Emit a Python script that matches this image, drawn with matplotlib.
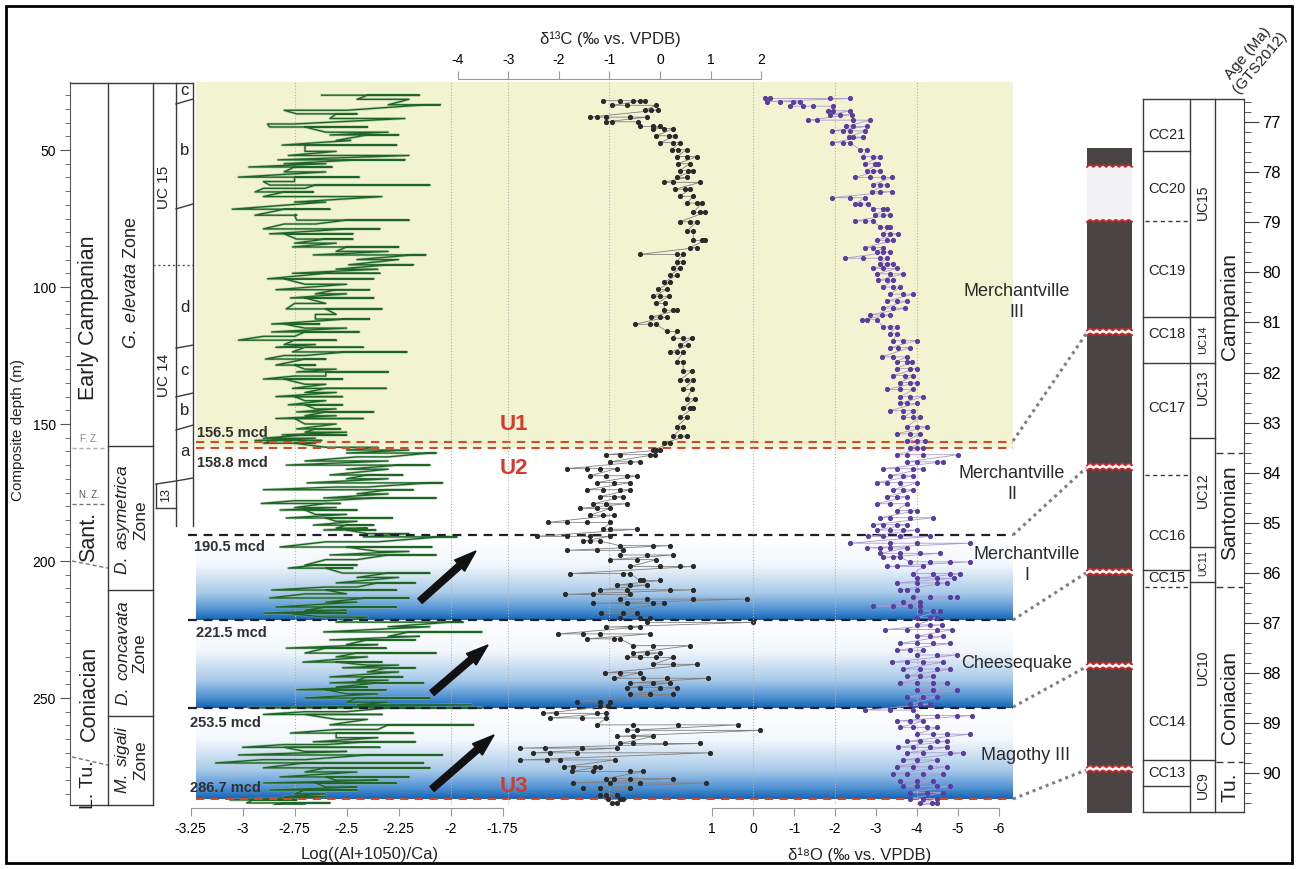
import numpy as np
import matplotlib
matplotlib.use('Agg')
import matplotlib.pyplot as plt
from matplotlib.patches import Rectangle, FancyArrow, Polygon
from matplotlib.colors import LinearSegmentedColormap
from matplotlib.ticker import FixedLocator

plt.rcParams['font.family'] = ['Liberation Sans', 'DejaVu Sans']
plt.rcParams['axes.unicode_minus'] = False
plt.rcParams['mathtext.fontset'] = 'custom'
plt.rcParams['mathtext.rm'] = 'Liberation Sans'
plt.rcParams['mathtext.it'] = 'Liberation Sans:italic'

# ---------------------------------------------------------------- data
# Log((Al+1050)/Ca) : (depth m, values read along that depth)
GREEN_ROWS = [
    (30.0, [-2.62, -2.15, -2.55, -2.40]), (31.5, [-2.45, -2.20]),
    (33.5, [-2.30, -2.05, -2.22, -2.12]), (35.5, [-2.50, -2.80]),
    (36.8, [-2.74, -2.45, -2.70, -2.55]), (38.5, [-2.58, -2.22]),
    (40.5, [-2.75, -2.88]), (41.6, [-2.87, -2.40, -2.80, -2.70]),
    (43.5, [-2.60, -2.30]), (44.5, [-2.58, -2.25, -2.45, -2.40]),
    (46.5, [-2.55, -2.48]), (48.2, [-2.81, -2.26, -2.78, -2.70]),
    (50.5, [-2.70, -2.55]), (52.0, [-2.78, -2.20]),
    (53.6, [-2.83, -2.22, -2.70, -2.45]), (55.0, [-2.80, -2.60]),
    (56.2, [-2.97, -2.57, -2.90, -2.75]), (58.0, [-2.80, -2.60]),
    (59.9, [-3.02, -2.44, -2.88, -2.75]), (61.5, [-2.75, -2.90]),
    (62.8, [-2.87, -2.10, -2.75, -2.65]), (64.0, [-2.70, -2.90]),
    (65.3, [-2.94, -2.66, -2.85, -2.80]), (67.0, [-2.90, -2.33]),
    (69.0, [-2.75, -2.60]), (71.6, [-3.05, -2.58, -3.00, -2.80]),
    (73.8, [-2.94, -2.74, -2.90, -2.75]), (75.6, [-2.74, -2.20, -2.50]),
    (77.0, [-2.65, -2.80]), (78.8, [-2.90, -2.34, -2.85, -2.50]),
    (80.6, [-2.87, -2.47, -2.80]), (82.5, [-2.74, -2.47, -2.60]),
    (84.0, [-2.75, -2.55]), (85.4, [-2.76, -2.25, -2.70, -2.50]),
    (87.0, [-2.55, -2.30]), (88.3, [-2.66, -2.12, -2.40, -2.18]),
    (90.0, [-2.45, -2.25]), (91.9, [-2.49, -2.18, -2.30]),
    (93.5, [-2.55, -2.35]), (95.0, [-2.76, -2.34, -2.60]),
    (97.0, [-2.88, -2.37, -2.80]), (99.0, [-2.70, -2.50]),
    (101.0, [-2.84, -2.39, -2.78, -2.55]), (102.5, [-2.65, -2.50]),
    (104.0, [-2.77, -2.37, -2.70]), (106.0, [-2.60, -2.75]),
    (108.0, [-2.79, -2.33, -2.70, -2.60]), (110.0, [-2.55, -2.65]),
    (111.7, [-2.65, -2.39, -2.50]), (113.5, [-2.86, -2.63, -2.80]),
    (115.0, [-2.70, -2.50]), (116.4, [-2.86, -2.44, -2.70]),
    (118.0, [-2.75, -2.90]), (119.4, [-3.02, -2.55, -2.95, -2.75]),
    (121.0, [-2.80, -2.65]), (122.0, [-2.84, -2.42, -2.70]),
    (123.7, [-2.76, -2.21, -2.50]), (125.0, [-2.70, -2.80]),
    (126.3, [-2.89, -2.60, -2.77, -2.70]), (128.5, [-2.84, -2.65, -2.75]),
    (130.0, [-2.70, -2.55]), (131.0, [-2.74, -2.30, -2.60]),
    (132.5, [-2.60, -2.75]), (133.6, [-2.90, -2.52, -2.80]),
    (135.5, [-2.70, -2.60]), (137.0, [-2.76, -2.31, -2.60]),
    (138.5, [-2.70, -2.55]), (140.0, [-2.84, -2.52, -2.75]),
    (141.5, [-2.70, -2.60]), (143.0, [-2.78, -2.52, -2.70]),
    (144.5, [-2.65, -2.55]), (145.6, [-2.74, -2.37, -2.60]),
    (147.0, [-2.70, -2.55]), (148.0, [-2.84, -2.42, -2.75]),
    (150.0, [-2.70, -2.55]), (151.8, [-2.74, -2.53, -2.65]),
    (153.0, [-2.70, -2.50]), (154.0, [-2.81, -2.50, -2.70]),
    (155.2, [-2.90, -2.65]), (156.0, [-2.94, -2.62, -2.85]),
    (157.0, [-2.90, -2.65, -2.75]), (158.5, [-2.60, -2.35]),
    (159.5, [-2.50, -2.20]), (160.6, [-2.50, -2.07, -2.35, -2.10]),
    (162.0, [-2.30, -2.45]), (163.5, [-2.70, -2.30]),
    (165.0, [-2.79, -2.10, -2.60, -2.25]), (166.5, [-2.50, -2.30]),
    (168.6, [-2.58, -2.23, -2.40]), (170.0, [-2.50, -2.30]),
    (171.5, [-2.69, -2.04, -2.45, -2.10]), (173.0, [-2.40, -2.55]),
    (174.0, [-2.90, -2.18, -2.60, -2.30]), (175.5, [-2.45, -2.30]),
    (177.0, [-2.61, -2.07, -2.35]), (178.0, [-2.60, -2.75]),
    (179.0, [-2.91, -2.53, -2.80, -2.60]), (180.5, [-2.75, -2.55]),
    (181.4, [-2.82, -2.45, -2.70]), (183.0, [-2.65, -2.50]),
    (184.3, [-2.79, -2.28, -2.60]), (185.5, [-2.55, -2.45]),
    (186.9, [-2.66, -2.37, -2.50]), (188.0, [-2.55, -2.40]),
    (188.7, [-2.61, -2.36, -2.50]), (190.0, [-2.40, -2.20]),
    (191.2, [-2.42, -1.97, -2.20, -2.05]), (193.0, [-2.35, -2.60]),
    (194.9, [-2.82, -2.09, -2.50]), (196.5, [-2.35, -2.20]),
    (197.8, [-2.58, -2.07, -2.30]), (199.5, [-2.45, -2.60]),
    (201.5, [-2.70, -2.45, -2.65]), (202.6, [-2.78, -2.47, -2.60]),
    (204.4, [-2.52, -2.10, -2.30]), (206.0, [-2.45, -2.25]),
    (208.0, [-2.55, -2.17, -2.35]), (209.5, [-2.45, -2.60]),
    (210.6, [-2.86, -2.26, -2.60]), (212.0, [-2.50, -2.70]),
    (213.5, [-2.87, -2.20, -2.80, -2.40]), (215.0, [-2.60, -2.45]),
    (216.8, [-2.84, -2.26, -2.60]), (218.0, [-2.70, -2.50]),
    (219.0, [-2.90, -2.50, -2.80]), (220.5, [-2.60, -2.40]),
    (222.3, [-2.55, -1.94, -2.30, -2.00]), (224.0, [-2.30, -2.10]),
    (225.9, [-2.61, -1.85, -2.40, -2.20]), (227.5, [-2.30, -2.15]),
    (228.8, [-2.58, -2.17, -2.40]), (230.5, [-2.50, -2.35]),
    (231.8, [-2.79, -2.31, -2.60]), (233.6, [-2.70, -2.07, -2.45]),
    (235.0, [-2.55, -2.40]), (236.9, [-2.71, -2.33, -2.55]),
    (238.0, [-2.40, -2.25]), (239.0, [-2.52, -2.17, -2.30]),
    (240.5, [-2.40, -2.25]), (242.3, [-2.58, -2.23, -2.40]),
    (243.5, [-2.45, -2.30]), (244.5, [-2.58, -2.13, -2.35]),
    (246.0, [-2.55, -2.40]), (247.0, [-2.74, -2.31, -2.60]),
    (248.5, [-2.50, -2.35]), (250.0, [-2.70, -2.10, -2.45]),
    (251.5, [-2.50, -2.30]), (252.5, [-2.45, -1.90]),
    (253.6, [-2.97, -1.85, -2.60, -2.30]), (255.0, [-2.50, -2.70]),
    (256.0, [-2.90, -2.33, -2.70]), (257.8, [-2.55, -2.40]),
    (259.8, [-2.58, -1.89, -2.30]), (261.5, [-2.35, -2.55]),
    (262.8, [-2.77, -2.18, -2.55]), (264.5, [-2.55, -2.35]),
    (266.0, [-2.66, -2.17, -2.40]), (267.0, [-2.60, -2.80]),
    (268.0, [-3.00, -2.34, -2.80]), (269.5, [-2.70, -2.50]),
    (270.8, [-3.02, -2.04, -2.80, -2.40]), (272.5, [-2.70, -2.90]),
    (273.7, [-3.13, -2.13, -2.95, -2.70]), (275.5, [-2.90, -2.10, -2.60]),
    (277.0, [-2.70, -2.45]), (278.8, [-2.82, -2.20, -2.60]),
    (280.0, [-2.55, -2.35]), (281.0, [-2.90, -2.26, -2.65]),
    (282.5, [-2.60, -2.45]), (283.6, [-2.87, -2.45, -2.70]),
    (285.0, [-2.75, -2.60]), (286.0, [-2.80, -2.60]),
    (287.2, [-3.06, -2.74, -2.95]), (288.3, [-2.98, -2.58, -2.80]),
    (289.0, [-2.85, -2.70]),
]

# delta13C (permil VPDB)
C13_ROWS = [
    (32.0, [-1.12, -0.79, -0.53, -0.40, -0.30]), (33.7, [-0.96, -0.66, -0.07]),
    (35.4, [-0.30, -0.17, -0.03]), (38.0, [-1.39, -1.25, -1.06, -0.59, -0.26]),
    (39.7, [-1.06, -0.96, -0.43]), (41.4, [-0.40, -0.13, 0.00]),
    (42.2, [-0.13, 0.07, 0.26]), (44.8, [-0.07, 0.17, 0.30]),
    (47.3, [0.00, 0.26, 0.39]), (49.9, [0.23, 0.36, 0.53]),
    (52.4, [0.33, 0.53, 0.73]), (55.0, [0.36, 0.59]),
    (57.5, [0.39, 0.56, 0.66]), (60.0, [0.33, 0.53]),
    (61.8, [0.07, 0.26, 0.79]), (64.3, [0.30, 0.50, 0.59]),
    (66.9, [0.39, 0.66]), (69.4, [0.53, 0.73, 0.83]),
    (72.8, [0.66, 0.79, 0.89]), (76.2, [0.39, 0.59, 0.73]),
    (79.6, [0.53, 0.66]), (83.0, [0.66, 0.83, 0.89]),
    (85.6, [0.59, 0.73]), (88.1, [-0.40, 0.33, 0.46]),
    (90.7, [0.33, 0.46]), (93.2, [0.26, 0.39]),
    (95.8, [0.20, 0.33]), (98.3, [0.07, 0.20]),
    (100.9, [-0.03, 0.13]), (103.4, [-0.13, 0.00, 0.17]),
    (106.0, [-0.07, 0.10]), (108.5, [0.07, 0.26, 0.33]),
    (111.0, [-0.17, 0.00, 0.13]), (113.6, [-0.50, -0.20, -0.07]),
    (116.2, [0.13, 0.33]), (118.7, [0.26, 0.46, 0.63]),
    (121.3, [0.39, 0.56]), (123.8, [0.20, 0.33, 0.46]),
    (127.2, [0.33, 0.46]), (130.6, [0.46, 0.63]),
    (134.0, [0.39, 0.53, 0.66]), (137.4, [0.46, 0.63]),
    (140.8, [0.53, 0.69]), (144.2, [0.46, 0.59, 0.66]),
    (147.6, [0.39, 0.53]), (151.0, [0.33, 0.46]),
    (154.4, [0.26, 0.39, 0.53]), (157.0, [0.07, 0.20]),
    (159.5, [-0.13, -0.07, 0.00]), (161.2, [-1.06, -0.79, -0.20, -0.10]),
    (163.8, [-0.99, -0.59, -0.40]), (166.3, [-1.85, -1.45, -1.19, -0.86]),
    (168.9, [-1.39, -1.06, -0.66, -0.46]), (171.4, [-1.25, -0.92, -0.59]),
    (174.0, [-1.45, -1.12, -0.79, -0.59]), (176.5, [-1.19, -0.92, -0.73]),
    (179.1, [-1.32, -1.06, -0.66]), (180.8, [-1.58, -1.25, -0.99]),
    (183.3, [-1.39, -1.12, -0.92]), (185.9, [-2.21, -1.85, -1.45, -0.99]),
    (188.4, [-1.12, -0.99, -0.46]), (191.0, [-2.44, -1.85, -1.39, -0.99]),
    (192.7, [-1.52, -1.39, -1.19]), (194.4, [-0.79, -0.13, 0.20]),
    (196.1, [-1.85, -1.25, -0.73]), (197.8, [-0.79, -0.26, 0.26]),
    (199.5, [-0.99, -0.46, -0.07]), (202.0, [-0.59, 0.00, 0.39, 0.66]),
    (204.6, [-1.78, -0.73, -0.59]), (207.1, [-0.40, -0.33, 0.00]),
    (208.8, [-0.86, -0.59, -0.26]), (210.5, [-1.19, -0.66, 0.20, 0.66]),
    (212.2, [-1.88, -1.32, -0.59]), (213.9, [-0.79, -0.26, 0.66, 1.72]),
    (215.5, [-1.32, -0.66, -0.13, 0.07]), (219.0, [-1.16, -0.73, -0.46]),
    (220.7, [-0.79, -0.40, -0.20]), (222.4, [-0.26, 1.85]),
    (224.1, [-1.06, -0.59, -0.40]), (226.6, [-2.01, -1.52, -1.19, -0.20]),
    (228.4, [-1.45, -0.92, -0.79]), (230.9, [-0.53, -0.13, 0.59]),
    (233.5, [-0.53, -0.26, 0.00]), (235.2, [-0.66, -0.40, -0.07, 0.26]),
    (237.7, [-0.13, 0.26, 0.73]), (240.8, [-1.09, -0.79, -0.40]),
    (242.8, [-0.92, -0.33, 0.13, 0.96]), (244.5, [-0.59, -0.13, 0.20]),
    (246.2, [-0.66, -0.40, 0.00, 0.33]), (248.7, [-0.59, -0.20, 0.26]),
    (251.3, [-1.65, -1.19, -0.99]), (253.0, [-1.19, -1.02]),
    (255.6, [-2.31, -2.05, -1.25, -1.06]), (257.3, [-2.18, -1.55, -1.06]),
    (259.8, [-1.25, -0.53, 0.36, 1.55]), (261.8, [-0.66, -0.46, 1.98]),
    (264.0, [-0.86, -0.53, -0.13]), (266.6, [-0.79, -0.53, 0.10, 0.79]),
    (268.3, [-2.77, -2.28, -1.55, -0.86]), (270.0, [-2.51, -2.18, -1.65, 0.99]),
    (272.6, [-2.77, -2.24, -1.98, -0.89]), (275.1, [-1.91, -1.72, -1.29, -1.19]),
    (276.8, [-1.75, -1.32, -0.59, -0.33]), (279.4, [-1.06, -0.92, -0.59, 0.26]),
    (281.0, [-1.72, -0.99, -0.40, 0.92]), (282.8, [-1.52, -1.19, -0.59]),
    (285.3, [-1.19, -1.06, -0.86]), (287.0, [-1.02, -0.79, -0.73]),
    (288.4, [-0.96, -0.86]),
]

# delta18O (permil VPDB)
O18_ROWS = [
    (31.2, [-0.29, -0.41, -1.88, -2.37]), (32.3, [-0.33, -0.66, -0.98, -1.15]),
    (34.0, [-0.90, -1.23, -1.47, -1.96]), (35.7, [-1.84, -1.96, -2.37]),
    (37.1, [-1.88, -2.12, -2.41]), (39.1, [-1.35, -1.55, -2.45, -2.85]),
    (41.4, [-2.28, -2.45, -2.77]), (43.0, [-1.92, -2.20, -2.37, -2.73]),
    (45.3, [-2.33, -2.45, -2.69]), (47.3, [-1.92, -2.20, -2.37]),
    (49.9, [-2.61, -2.77]), (52.4, [-2.69, -2.93, -3.10]),
    (55.0, [-2.73, -2.98, -3.06]), (57.5, [-2.77, -2.93, -3.10]),
    (60.0, [-2.49, -2.85, -3.18, -3.38]), (62.6, [-2.93, -3.10, -3.26]),
    (65.2, [-2.89, -3.10, -3.38]), (67.4, [-1.92, -2.37, -2.73]),
    (69.7, [-2.49, -2.61, -2.81]), (71.4, [-2.93, -3.18, -3.26]),
    (73.7, [-2.98, -3.18, -3.34]), (75.9, [-2.49, -2.73, -2.93]),
    (78.2, [-3.10, -3.26, -3.34]), (80.5, [-3.18, -3.34, -3.54]),
    (83.0, [-3.02, -3.26, -3.42]), (85.6, [-2.73, -2.93, -3.18]),
    (87.2, [-3.02, -3.18, -3.34]), (89.5, [-2.24, -2.69, -3.10, -3.26]),
    (91.5, [-3.10, -3.26, -3.42]), (93.2, [-2.93, -3.18, -3.50]),
    (95.2, [-3.02, -3.34, -3.67]), (97.5, [-3.06, -3.26, -3.42]),
    (100.0, [-3.18, -3.42, -3.59]), (102.6, [-3.34, -3.67, -3.91]),
    (105.1, [-3.26, -3.50, -3.75]), (107.7, [-3.18, -3.42, -3.71]),
    (110.2, [-2.85, -3.14, -3.34]), (111.9, [-2.65, -2.77, -3.02]),
    (114.5, [-3.18, -3.34, -3.50]), (117.0, [-3.34, -3.50]),
    (119.6, [-3.42, -3.67, -3.99]), (122.1, [-3.34, -3.54, -3.83]),
    (125.5, [-3.14, -3.42, -3.75]), (127.2, [-3.50, -3.75, -3.87]),
    (129.8, [-3.50, -3.83, -3.99]), (132.3, [-3.42, -3.71, -3.91]),
    (134.9, [-3.59, -3.83, -3.99]), (137.4, [-3.26, -3.59, -3.91]),
    (140.0, [-3.59, -3.83, -4.15]), (142.5, [-3.59, -3.75, -3.99]),
    (145.1, [-3.34, -3.67, -3.91]), (147.6, [-3.67, -3.91, -4.07]),
    (151.0, [-3.75, -3.99, -4.24]), (153.6, [-3.50, -3.83, -4.07]),
    (156.1, [-3.75, -3.99, -4.20]), (158.7, [-3.83, -3.99, -4.15]),
    (161.2, [-3.50, -3.75, -4.15, -5.01]), (163.8, [-3.75, -3.99, -4.48, -4.64]),
    (166.3, [-3.18, -3.50, -3.91, -4.15]), (168.9, [-3.34, -3.67, -3.91]),
    (171.4, [-3.02, -3.26, -3.59, -3.99]), (174.0, [-3.42, -3.67, -3.91]),
    (176.5, [-3.26, -3.50, -3.75]), (179.1, [-3.02, -3.34, -3.75]),
    (181.6, [-3.50, -3.83, -3.99]), (184.2, [-3.10, -3.34, -3.83, -4.40]),
    (186.7, [-2.93, -3.18, -3.50, -3.75]), (188.7, [-3.02, -3.34, -3.67, -3.99]),
    (191.0, [-2.81, -3.18, -3.59, -4.32]), (193.5, [-2.37, -3.34, -3.99, -5.29]),
    (195.2, [-2.77, -3.10, -3.34, -3.75]), (197.2, [-3.10, -3.59, -4.07, -4.56]),
    (198.6, [-3.18, -3.42, -3.59]), (200.3, [-3.83, -4.32, -4.80, -5.29]),
    (202.0, [-3.26, -3.50, -4.15]), (204.6, [-3.91, -4.40, -4.80, -5.05]),
    (206.3, [-3.99, -4.48, -4.89]), (208.0, [-3.50, -3.99, -4.48, -4.72]),
    (210.5, [-3.59, -3.75, -3.99]), (213.1, [-3.91, -4.32, -4.80, -4.97]),
    (214.8, [-3.67, -4.07]), (216.5, [-2.93, -3.42, -3.83, -4.07]),
    (218.2, [-4.07, -4.40, -4.56]), (220.7, [-3.99, -4.32, -4.48]),
    (223.3, [-3.99, -4.32, -4.60]), (225.0, [-3.22, -3.75, -4.48, -4.85]),
    (227.5, [-3.99, -4.32, -4.64]), (230.1, [-3.59, -3.99, -4.40, -4.80]),
    (232.6, [-3.50, -3.83, -4.15]), (234.3, [-3.99, -4.48, -4.97]),
    (236.9, [-3.38, -3.75, -4.15, -4.64]), (239.4, [-3.67, -4.07, -4.48, -4.80]),
    (242.0, [-3.75, -4.07, -4.40]), (244.5, [-3.59, -3.99, -4.40, -4.72]),
    (247.1, [-3.99, -4.40, -4.97]), (249.6, [-3.75, -4.15, -4.48]),
    (252.2, [-3.83, -4.07, -4.32]), (254.4, [-2.73, -3.34, -3.91]),
    (256.4, [-3.99, -4.48, -4.97, -5.33]), (258.4, [-3.50, -3.83, -4.15]),
    (260.7, [-3.59, -3.91, -4.24, -4.48]), (263.2, [-3.99, -4.40, -4.72, -5.29]),
    (265.8, [-3.75, -4.07, -4.48, -4.72]), (268.0, [-3.54, -3.91, -4.32, -4.72]),
    (270.0, [-3.75, -4.15, -4.80, -5.13]), (272.6, [-3.67, -3.99, -4.48]),
    (275.1, [-3.50, -3.91, -4.32, -4.72]), (277.7, [-3.42, -3.75, -4.15, -4.64]),
    (280.2, [-3.59, -3.99, -4.40]), (282.2, [-3.67, -3.99, -4.48, -4.80]),
    (284.5, [-3.83, -4.24, -4.64]), (286.7, [-3.83, -4.15, -4.48]),
    (288.4, [-4.07, -4.36, -4.48]), (290.1, [-3.34, -3.99, -4.40]),
]

LOG_TICKS = [-3.25, -3.0, -2.75, -2.5, -2.25, -2.0, -1.75]
LOG_LABELS = ['-3.25', '-3', '-2.75', '-2.5', '-2.25', '-2', '-1.75']
C13_TICKS = [-4, -3, -2, -1, 0, 1, 2]
O18_TICKS = [1, 0, -1, -2, -3, -4, -5, -6]
DEPTH_TICKS = [50, 100, 150, 200, 250]
AGE_TICKS = list(range(77, 91))

UNIT_LINES = [156.5, 158.8, 190.5, 221.5, 253.5, 286.7]
UNIT_LABELS = ['156.5 mcd', '158.8 mcd', '190.5 mcd', '221.5 mcd', '253.5 mcd', '286.7 mcd']
BLUE_BANDS = [(190.5, 221.5), (221.5, 253.5), (253.5, 286.7)]

# right-hand biostratigraphy (Ma)
CC_SOLID = [77.58, 80.9, 81.8, 85.95, 89.73, 90.25]
CC_DASHED = [78.98, 84.05, 86.27]
UC_SOLID = [80.9, 81.8, 83.3, 85.48, 86.17, 89.73]
STAGE_DASHED = [83.6, 86.28, 89.77]
CC_NAMES = [('CC21', 77.26), ('CC20', 78.34), ('CC19', 79.97), ('CC18', 81.23),
            ('CC17', 82.71), ('CC16', 85.26), ('CC15', 86.10), ('CC14', 88.98),
            ('CC13', 89.99)]
UC_NAMES = [('UC15', 78.6, 10), ('UC14', 81.35, 8), ('UC13', 82.29, 10),
            ('UC12', 84.35, 10), ('UC11', 85.8, 7.5), ('UC10', 87.88, 10),
            ('UC9', 90.23, 10)]
STAGE_NAMES = [('Campanian', 80.69), ('Santonian', 84.8), ('Coniacian', 88.48), ('Tu.', 90.27)]

# ---------------------------------------------------------------- layout
W, H = 1297, 869
fig = plt.figure(figsize=(W / 100, H / 100), dpi=100)


def rect(x0, y0, x1, y1):
    return [x0 / W, 1 - y1 / H, (x1 - x0) / W, (y1 - y0) / H]


D_TOP, D_BOT = 25.18, 289.05
PX_L, PX_R = 186, 1013          # data axes horizontal extent (px)
BG_FRAC = (196 - PX_L) / (PX_R - PX_L)

# ---------------- Log axis (with backgrounds)
ax_log = fig.add_axes(rect(PX_L, 82, PX_R, 805))
ax_log.set_facecolor('none')
ax_log.axhspan(D_TOP, 158.8, xmin=BG_FRAC, xmax=1, color='#F1F3D1', lw=0, zorder=0)
band_cmap = LinearSegmentedColormap.from_list(
    'band', [(0, '#ffffff'), (0.35, '#f3f7fc'), (0.68, '#a9cae9'),
             (0.88, '#4f92d3'), (1.0, '#1463b4')])
grad = np.linspace(0, 1, 256).reshape(-1, 1)
LOG_LO, LOG_HI = -3.272, 0.704
x_bg0 = LOG_LO + (LOG_HI - LOG_LO) * BG_FRAC
for top, bot in BLUE_BANDS:
    ax_log.imshow(grad, cmap=band_cmap, extent=(x_bg0, LOG_HI, bot, top),
                  origin='upper', aspect='auto', interpolation='bilinear', zorder=0.2)
ax_log.set_xlim(LOG_LO, LOG_HI)
ax_log.set_ylim(D_BOT, D_TOP)

for v in (-2.75, -2.0):
    ax_log.axvline(v, color='#b3b3b3', ls=':', lw=0.8, zorder=0.5)

g_d = [d for d, vals in GREEN_ROWS for _ in vals]
g_v = [v for d, vals in GREEN_ROWS for v in vals]
ax_log.plot(g_v, g_d, color='#8fb08f', lw=2.0, alpha=0.5, zorder=1)
ax_log.plot(g_v, g_d, color='#1d6626', lw=1.0, zorder=1.1)

red = '#d24a2c'
for dep in (156.5, 158.8, 286.7):
    ax_log.axhline(dep, xmin=BG_FRAC, xmax=1, color=red, ls=(0, (4, 3)), lw=1.5, zorder=3)
for dep in (190.5, 221.5, 253.5):
    ax_log.axhline(dep, xmin=0.003, xmax=1, color='#1c1f2e', ls=(0, (4, 3)), lw=1.6, zorder=3)

for sp in ('top', 'left', 'right'):
    ax_log.spines[sp].set_visible(False)
ax_log.spines['bottom'].set_bounds(-3.25, -1.75)
ax_log.spines['bottom'].set_position(('outward', 2))
ax_log.spines['bottom'].set_color('#9a9a9a')
ax_log.set_xticks(LOG_TICKS)
ax_log.set_xticklabels(LOG_LABELS)
ax_log.tick_params(axis='x', direction='out', length=6, color='#9a9a9a', labelsize=10, pad=4)
ax_log.set_yticks([])

# ---------------- delta13C axis (top)
ax_c = fig.add_axes(rect(PX_L, 82, PX_R, 805))
ax_c.set_facecolor('none')
ax_c.set_xlim(-9.386, 6.990)
ax_c.set_ylim(D_BOT, D_TOP)
for v in (-3, -1):
    ax_c.axvline(v, color='#b3b3b3', ls=':', lw=0.8, zorder=0.5)
c_d = [d for d, vals in C13_ROWS for _ in vals]
c_v = [v for d, vals in C13_ROWS for v in vals]
ax_c.plot(c_v, c_d, color='#808080', lw=0.6, zorder=2)
ax_c.plot(c_v, c_d, ls='none', marker='o', ms=2.7, color='#2a2a2a', mec='#2a2a2a', zorder=2.1)
ax_c.xaxis.tick_top()
for sp in ('bottom', 'left', 'right'):
    ax_c.spines[sp].set_visible(False)
ax_c.spines['top'].set_bounds(-4, 2)
ax_c.spines['top'].set_position(('outward', 2))
ax_c.spines['top'].set_color('#9a9a9a')
ax_c.set_xticks(C13_TICKS)
ax_c.set_xticklabels([str(t) for t in C13_TICKS])
ax_c.tick_params(axis='x', direction='out', length=6, color='#9a9a9a', labelsize=10, pad=3)
ax_c.set_yticks([])

# ---------------- delta18O axis (bottom right)
ax_o = fig.add_axes(rect(PX_L, 82, PX_R, 805))
ax_o.set_facecolor('none')
ax_o.set_xlim(13.829, -6.341)
ax_o.set_ylim(D_BOT, D_TOP)
for v in (0, -2, -4):
    ax_o.axvline(v, color='#b3b3b3', ls=':', lw=0.8, zorder=0.5)
o_d = [d for d, vals in O18_ROWS for _ in vals]
o_v = [v for d, vals in O18_ROWS for v in vals]
ax_o.plot(o_v, o_d, color='#a79ccd', lw=0.6, zorder=2)
ax_o.plot(o_v, o_d, ls='none', marker='o', ms=2.7, color='#5a3d9e', mec='#5a3d9e', zorder=2.1)
for sp in ('top', 'left', 'right'):
    ax_o.spines[sp].set_visible(False)
ax_o.spines['bottom'].set_bounds(1, -6)
ax_o.spines['bottom'].set_position(('outward', 2))
ax_o.spines['bottom'].set_color('#9a9a9a')
ax_o.set_xticks(O18_TICKS)
ax_o.set_xticklabels([str(t) for t in O18_TICKS])
ax_o.tick_params(axis='x', direction='out', length=6, color='#9a9a9a', labelsize=10, pad=4)
ax_o.set_yticks([])

# ---------------- left stratigraphic columns (x in px, y in depth)
ax_s = fig.add_axes(rect(70, 82, 193, 805))
ax_s.set_facecolor('none')
ax_s.set_xlim(70, 193)
ax_s.set_ylim(D_BOT, D_TOP)
for sp in ('top', 'right', 'bottom'):
    ax_s.spines[sp].set_visible(False)
ax_s.spines['left'].set_color('#555555')
ax_s.set_xticks([])
ax_s.set_yticks(DEPTH_TICKS)
ax_s.set_yticklabels([str(t) for t in DEPTH_TICKS])
ax_s.yaxis.set_minor_locator(FixedLocator([m for m in range(30, 290, 5) if m % 50]))
ax_s.tick_params(axis='y', which='major', direction='out', length=7, color='#555555', labelsize=10, pad=3)
ax_s.tick_params(axis='y', which='minor', direction='out', length=3.5, color='#555555')

lk = dict(color='#3a3a3a', lw=1.0, clip_on=False)
ax_s.plot([70, 193], [25.5, 25.5], **lk)
ax_s.plot([70, 153], [289.0, 289.0], **lk)
for x in (108, 153):
    ax_s.plot([x, x], [25.5, 289.0], **lk)
for x in (176, 193):
    ax_s.plot([x, x], [25.5, 187.2], **lk)
for dep in (158.0, 210.6, 256.6):
    ax_s.plot([108, 153], [dep, dep], **lk)
# stage-column dashed boundaries
dk = dict(color='#777777', lw=1.0, ls=(0, (3, 2)), clip_on=False)
ax_s.plot([72, 106], [158.8, 158.8], color='#aaaaaa', lw=1.0, ls=(0, (3, 2)))
ax_s.plot([72, 106], [179.2, 179.2], **dk)
ax_s.plot([72, 108], [200.0, 202.6], **dk)
ax_s.plot([72, 108], [271.5, 274.5], **dk)
# UC column
ax_s.plot([153, 193], [92.0, 92.0], color='#555555', lw=1.0, ls=(0, (1.5, 2)))
ax_s.plot([156, 176, 193], [171.9, 170.8, 169.7], **lk)
ax_s.plot([156, 156], [171.9, 180.7], **lk)
ax_s.plot([156, 176], [180.7, 180.7], **lk)
for d0, d1 in ((33.2, 31.4), (71.5, 69.7), (122.3, 121.2), (140.1, 138.7), (152.2, 150.4)):
    ax_s.plot([176, 193], [d0, d1], **lk)

tk = dict(ha='center', va='center', color='#222222')
ax_s.text(89, 111.3, 'Early Campanian', rotation=90, fontsize=15.5, **tk)
ax_s.text(89, 191.2, 'Sant.', rotation=90, fontsize=15.5, **tk)
ax_s.text(89, 248.2, 'Coniacian', rotation=90, fontsize=15.5, **tk)
ax_s.text(89, 281.8, 'L. Tu.', rotation=90, fontsize=14, **tk)
ax_s.text(89, 155.3, 'F. Z.', fontsize=7, color='#888888', ha='center', va='center')
ax_s.text(89, 176.0, 'N. Z.', fontsize=7, color='#555555', ha='center', va='center')
ax_s.text(131, 98.5, r'$\it{G.\ elevata}$ Zone', rotation=90, fontsize=13, **tk)
ax_s.text(131, 185.0, r'$\it{D.\ asymetrica}$' + '\nZone', rotation=90, fontsize=12.5,
          multialignment='center', linespacing=1.1, **tk)
ax_s.text(131, 233.6, r'$\it{D.\ concavata}$' + '\nZone', rotation=90, fontsize=12.5,
          multialignment='center', linespacing=1.1, **tk)
ax_s.text(131, 272.6, r'$\it{M.\ sigali}$' + '\nZone', rotation=90, fontsize=12.5,
          multialignment='center', linespacing=1.1, **tk)
ax_s.text(164.5, 63.5, 'UC 15', rotation=90, fontsize=11, **tk)
ax_s.text(164.5, 132.1, 'UC 14', rotation=90, fontsize=11, **tk)
ax_s.text(166, 176.0, '13', rotation=90, fontsize=9, **tk)
for s, dep in (('c', 28.4), ('b', 50.0), ('d', 107.3), ('c', 130.3), ('b', 144.9), ('a', 160.2)):
    ax_s.text(184.5, dep, s, fontsize=12, **tk)

# ---------------- right age column (x in px, y in Ma)
ax_a = fig.add_axes(rect(1143, 99, 1244, 812))
ax_a.set_facecolor('none')
ax_a.set_xlim(1143, 1244)
ax_a.set_ylim(90.77, 76.54)
for sp in ('top', 'left', 'bottom'):
    ax_a.spines[sp].set_visible(False)
ax_a.spines['right'].set_color('#3a3a3a')
ax_a.yaxis.tick_right()
ax_a.set_xticks([])
ax_a.set_yticks(AGE_TICKS)
ax_a.set_yticklabels([str(t) for t in AGE_TICKS])
ax_a.yaxis.set_minor_locator(FixedLocator([round(76.6 + 0.2 * i, 1) for i in range(71)
                                           if abs((76.6 + 0.2 * i) - round(76.6 + 0.2 * i)) > 0.05]))
ax_a.tick_params(axis='y', which='major', direction='out', length=11, color='#3a3a3a', labelsize=12, pad=2)
ax_a.tick_params(axis='y', which='minor', direction='out', length=5, color='#3a3a3a')
ak = dict(color='#3a3a3a', lw=1.0, clip_on=False)
ax_a.plot([1143, 1244], [76.54, 76.54], **ak)
ax_a.plot([1143, 1244], [90.77, 90.77], **ak)
for x in (1143, 1190, 1215):
    ax_a.plot([x, x], [76.54, 90.77], **ak)
for a in CC_SOLID:
    ax_a.plot([1143, 1190], [a, a], **ak)
for a in CC_DASHED:
    ax_a.plot([1145, 1189], [a, a], color='#3a3a3a', lw=1.0, ls=(0, (3, 2.5)))
for a in UC_SOLID:
    ax_a.plot([1190, 1215], [a, a], **ak)
for a in STAGE_DASHED:
    ax_a.plot([1216, 1243], [a, a], color='#3a3a3a', lw=1.0, ls=(0, (5, 3)))
for s, a in CC_NAMES:
    ax_a.text(1166.5, a, s, fontsize=10.5, ha='center', va='center', color='#222222')
for s, a, fs in UC_NAMES:
    ax_a.text(1203, a, s, fontsize=fs, rotation=90, ha='center', va='center', color='#222222')
for s, a in STAGE_NAMES:
    ax_a.text(1229.5, a, s, fontsize=15, rotation=90, ha='center', va='center', color='#222222')

# ---------------- overlay (figure pixels)
ov = fig.add_axes([0, 0, 1, 1])
ov.set_xlim(0, W)
ov.set_ylim(H, 0)
ov.axis('off')
ov.set_facecolor('none')

ov.add_patch(Rectangle((6, 6), 1286, 857, fill=False, ec='black', lw=2.0))

# lithology column with hiatus breaks
LX0, LX1 = 1087, 1132
ov.add_patch(Rectangle((LX0, 148), LX1 - LX0, 813 - 148, fc='#4a4444', ec='none'))
xs = np.linspace(LX0, LX1, 300)
scallop = 2.0 * np.abs(np.sin(np.pi * (xs - LX0) / 6.4))


def break_band(y_top, y_bot, fill):
    top = y_top - scallop
    bot = y_bot - scallop
    poly = np.column_stack([np.r_[xs, xs[::-1]], np.r_[top, bot[::-1]]])
    ov.add_patch(Polygon(poly, closed=True, fc=fill, ec='none'))
    ov.plot(xs, top, color='#c22a2e', lw=1.3)
    ov.plot(xs, bot, color='#c22a2e', lw=1.3)


break_band(167, 222, '#f2f2f5')
for yb in (333, 468, 573, 667, 770):
    break_band(yb - 2.5, yb + 2.5, 'white')

# dotted correlation lines
for (xa, ya), (xb, yb) in (((1013, 441), (1086, 334)), ((1013, 535), (1086, 468)),
                           ((1013, 620), (1086, 573)), ((1013, 707), (1086, 667)),
                           ((1013, 799), (1086, 770))):
    ov.plot([xa, xb], [ya, yb], color='#7f7f7f', lw=2.2, ls=(0, (1, 1.3)))

# trend arrows
for (xa, ya), (xb, yb) in (((420, 601), (476, 551)), ((432, 693), (488, 645)),
                           ((432, 789), (494, 735))):
    ov.add_patch(FancyArrow(xa, ya, xb - xa, yb - ya, width=6.5, head_width=15,
                            head_length=22, length_includes_head=True,
                            fc='#111111', ec='#111111'))

# unit labels
for lab, (x, y) in zip(UNIT_LABELS, ((197, 433), (197, 463), (194, 547),
                                     (196, 633), (190, 723), (190, 788))):
    ov.text(x, y, lab, fontsize=10.5, fontweight='bold', color='#303030', ha='left', va='center')
for lab, (x, y) in (('U1', (514, 425)), ('U2', (514, 468)), ('U3', (514, 786))):
    ov.text(x, y, lab, fontsize=16, fontweight='bold', color='#d8392b', ha='center', va='center')

fk = dict(fontsize=13, color='#2a2a2a', ha='center', va='center', linespacing=1.3)
ov.text(1017, 302, 'Merchantville\nIII', **fk)
ov.text(1012, 484, 'Merchantville\nII', **fk)
ov.text(1027, 565, 'Merchantville\nI', **fk)
ov.text(1017, 664, 'Cheesequake', **fk)
ov.text(1026, 755, 'Magothy III', **fk)

# axis titles
ov.text(610, 39, 'δ¹³C (‰ vs. VPDB)', fontsize=12, ha='center', va='center', color='#222222')
ov.text(370, 855, 'Log((Al+1050)/Ca)', fontsize=12, ha='center', va='center', color='#222222')
ov.text(860, 855, 'δ¹⁸O (‰ vs. VPDB)', fontsize=12, ha='center', va='center', color='#222222')
ov.text(18, 430, 'Composite depth (m)', fontsize=11, rotation=90, ha='center', va='center', color='#222222')
ov.text(1254, 58, 'Age (Ma)\n(GTS2012)', fontsize=11, rotation=50, ha='center', va='center',
        color='#222222', multialignment='center', linespacing=1.1)

fig.savefig('out.png', dpi=100)
